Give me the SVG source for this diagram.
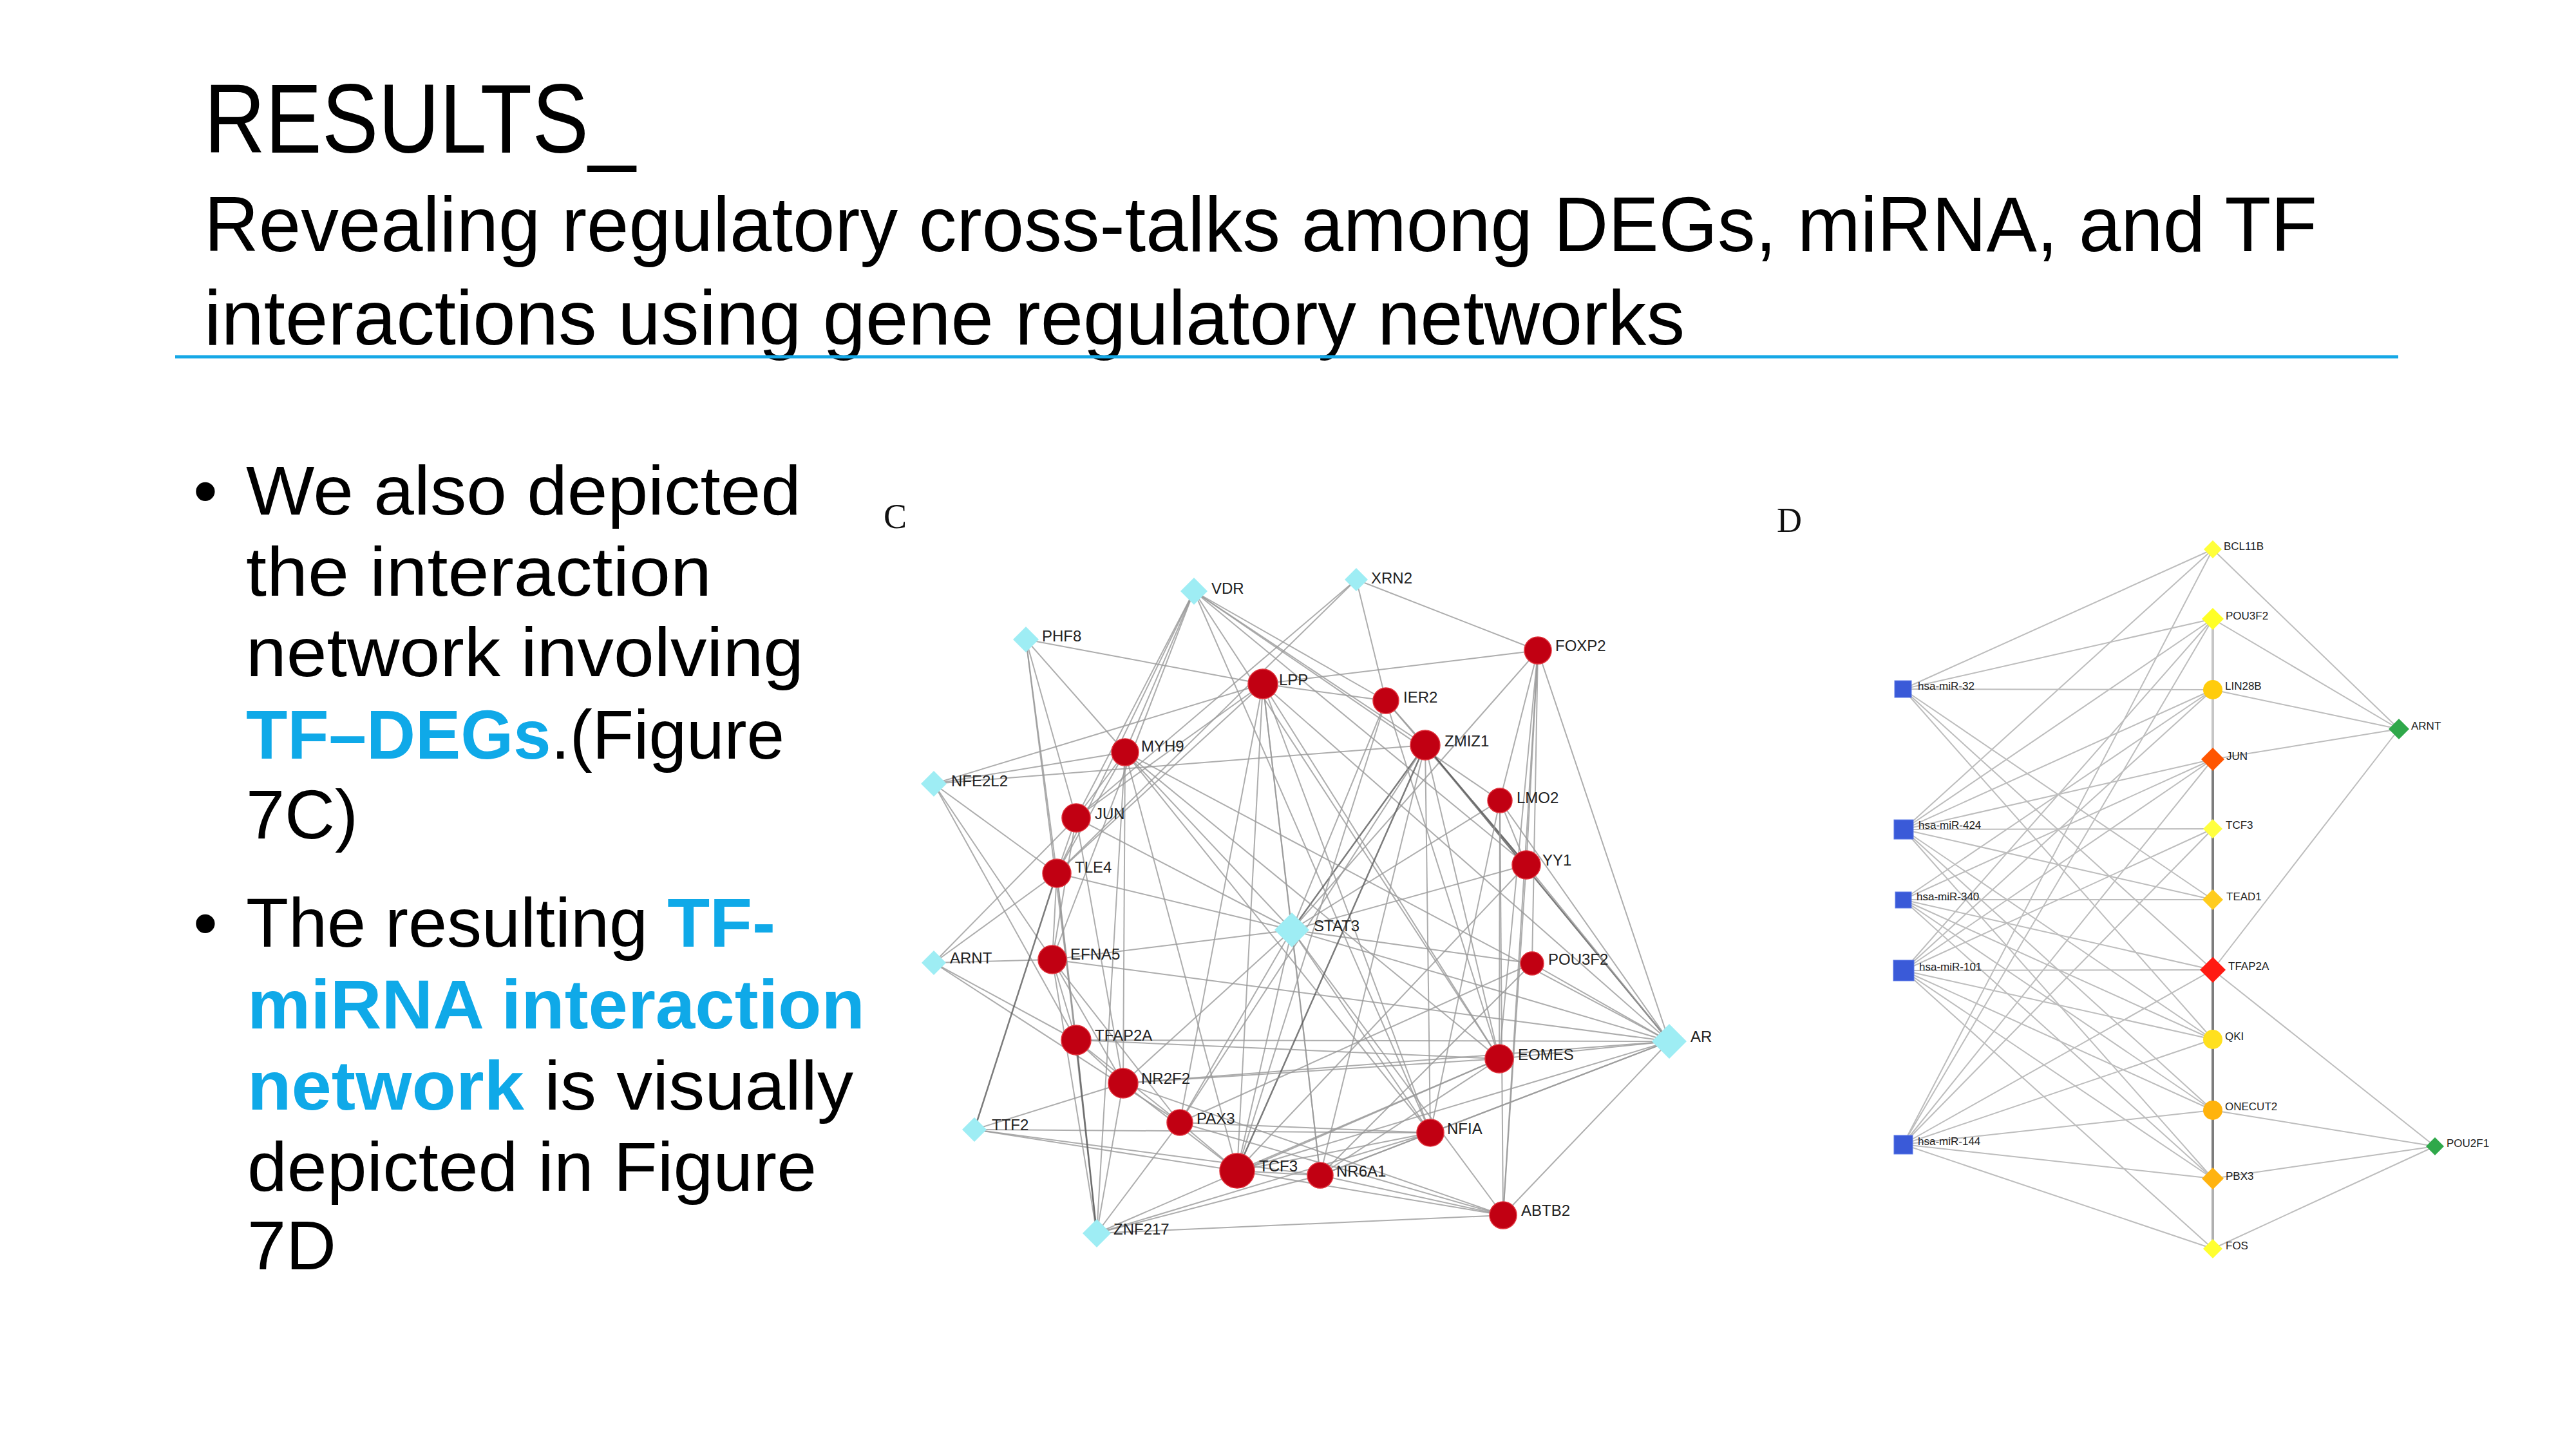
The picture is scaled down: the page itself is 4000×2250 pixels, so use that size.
<svg xmlns="http://www.w3.org/2000/svg" width="4000" height="2250" viewBox="0 0 4000 2250">
<style>
.ttl{font-family:"Liberation Sans",Arial,sans-serif;fill:#000}
.body{font-family:"Liberation Sans",Arial,sans-serif;font-size:108px;fill:#000}
.hl{font-weight:bold;fill:#0FA9E8}
.pl{font-family:"Liberation Serif","Times New Roman",serif;font-size:54px;fill:#111}
.ec line{stroke:#989898;stroke-width:2;stroke-opacity:0.8}
.ec line.dk{stroke:#5a5a5a;stroke-width:2.5}
.ed line{stroke:#bdbdbd;stroke-width:2}
.cl{font-family:"Liberation Sans",Arial,sans-serif;font-size:24px;fill:#222}
.dl{font-family:"Liberation Sans",Arial,sans-serif;font-size:17px;fill:#222}
.deg{fill:#C10012;stroke:#e0303a;stroke-width:1.5}
.tf{fill:#9EEDF4}
.mir{fill:#3A5AD8;stroke:#5a78e8;stroke-width:1}
</style>
<rect x="0" y="0" width="4000" height="2250" fill="#fff"/>

<!-- Title -->
<g id="title">
<text class="ttl" x="317" y="237" font-size="152" textLength="670" lengthAdjust="spacingAndGlyphs">RESULTS_</text>
<text class="ttl" x="317" y="390" font-size="121" textLength="3281" lengthAdjust="spacingAndGlyphs">Revealing regulatory cross-talks among DEGs, miRNA, and TF</text>
<text class="ttl" x="317" y="535" font-size="121" textLength="2299" lengthAdjust="spacingAndGlyphs">interactions using gene regulatory networks</text>
<line x1="272" y1="554" x2="3724" y2="554" stroke="#16A8E6" stroke-width="5"/>
</g>

<!-- Bullets -->
<g id="bullets">
<text class="body" x="300" y="799">•</text>
<text class="body" x="382" y="799" textLength="862" lengthAdjust="spacingAndGlyphs">We also depicted</text>
<text class="body" x="382" y="925" textLength="723" lengthAdjust="spacingAndGlyphs">the interaction</text>
<text class="body" x="382" y="1050" textLength="866" lengthAdjust="spacingAndGlyphs">network involving</text>
<text class="body" x="382" y="1178" textLength="836" lengthAdjust="spacingAndGlyphs"><tspan class="hl">TF–DEGs</tspan>.(Figure</text>
<text class="body" x="382" y="1302">7C)</text>
<text class="body" x="300" y="1470">•</text>
<text class="body" x="382" y="1470" textLength="822" lengthAdjust="spacingAndGlyphs">The resulting <tspan class="hl">TF-</tspan></text>
<text class="body hl" x="384" y="1597" textLength="959" lengthAdjust="spacingAndGlyphs">miRNA interaction</text>
<text class="body" x="384" y="1723" textLength="941" lengthAdjust="spacingAndGlyphs"><tspan class="hl">network</tspan> is visually</text>
<text class="body" x="384" y="1849" textLength="884" lengthAdjust="spacingAndGlyphs">depicted in Figure</text>
<text class="body" x="384" y="1971">7D</text>
</g>

<text class="pl" x="1372" y="820">C</text>
<text class="pl" x="2759" y="826">D</text>

<!-- Network C connectors -->
<g id="connectors-c" class="ec">
<line x1="1854" y1="918" x2="1671" y2="1270"/>
<line x1="1854" y1="918" x2="1641" y2="1356"/>
<line x1="1854" y1="918" x2="1634" y2="1490"/>
<line x1="1854" y1="918" x2="1747" y2="1168"/>
<line x1="1854" y1="918" x2="2152" y2="1088"/>
<line x1="1854" y1="918" x2="2213" y2="1157"/>
<line x1="1854" y1="918" x2="2329" y2="1243"/>
<line x1="1854" y1="918" x2="2370" y2="1343"/>
<line x1="1854" y1="918" x2="2328" y2="1644"/>
<line x1="1854" y1="918" x2="2221" y2="1759"/>
<line x1="2106" y1="900" x2="1671" y2="1270"/>
<line x1="2106" y1="900" x2="1641" y2="1356"/>
<line x1="2106" y1="900" x2="2152" y2="1088"/>
<line x1="2106" y1="900" x2="2388" y2="1010"/>
<line x1="1593" y1="993" x2="1961" y2="1062"/>
<line x1="1593" y1="993" x2="1747" y2="1168"/>
<line x1="1593" y1="993" x2="1671" y2="1270"/>
<line x1="1593" y1="993" x2="1641" y2="1356"/>
<line x1="1593" y1="993" x2="1671" y2="1615"/>
<line x1="1450" y1="1217" x2="1961" y2="1062"/>
<line x1="1450" y1="1217" x2="1747" y2="1168"/>
<line x1="1450" y1="1217" x2="2213" y2="1157"/>
<line x1="1450" y1="1217" x2="1641" y2="1356"/>
<line x1="1450" y1="1217" x2="1671" y2="1615"/>
<line x1="1450" y1="1217" x2="1634" y2="1490"/>
<line x1="1450" y1="1495" x2="1634" y2="1490"/>
<line x1="1450" y1="1495" x2="1671" y2="1270"/>
<line x1="1450" y1="1495" x2="1641" y2="1356"/>
<line x1="1450" y1="1495" x2="1671" y2="1615"/>
<line x1="1450" y1="1495" x2="1832" y2="1743"/>
<line class="dk" x1="1513" y1="1754" x2="1641" y2="1356"/>
<line x1="1513" y1="1754" x2="1744" y2="1682"/>
<line x1="1513" y1="1754" x2="2221" y2="1759"/>
<line x1="1513" y1="1754" x2="1921" y2="1818"/>
<line x1="1513" y1="1754" x2="2050" y2="1825"/>
<line x1="1703" y1="1915" x2="1641" y2="1356"/>
<line x1="1703" y1="1915" x2="1634" y2="1490"/>
<line class="dk" x1="1703" y1="1915" x2="1671" y2="1615"/>
<line x1="1703" y1="1915" x2="1744" y2="1682"/>
<line x1="1703" y1="1915" x2="1832" y2="1743"/>
<line x1="1703" y1="1915" x2="2050" y2="1825"/>
<line x1="1703" y1="1915" x2="2221" y2="1759"/>
<line x1="1703" y1="1915" x2="2328" y2="1644"/>
<line x1="1703" y1="1915" x2="2334" y2="1887"/>
<line x1="1703" y1="1915" x2="1747" y2="1168"/>
<line x1="2006" y1="1444" x2="1961" y2="1062"/>
<line x1="2006" y1="1444" x2="2152" y2="1088"/>
<line class="dk" x1="2006" y1="1444" x2="2213" y2="1157"/>
<line x1="2006" y1="1444" x2="2329" y2="1243"/>
<line x1="2006" y1="1444" x2="2370" y2="1343"/>
<line x1="2006" y1="1444" x2="2379" y2="1496"/>
<line x1="2006" y1="1444" x2="1671" y2="1270"/>
<line x1="2006" y1="1444" x2="1641" y2="1356"/>
<line x1="2006" y1="1444" x2="1634" y2="1490"/>
<line x1="2006" y1="1444" x2="1832" y2="1743"/>
<line x1="2006" y1="1444" x2="1921" y2="1818"/>
<line x1="2006" y1="1444" x2="2050" y2="1825"/>
<line x1="2006" y1="1444" x2="2221" y2="1759"/>
<line x1="2006" y1="1444" x2="2334" y2="1887"/>
<line x1="2006" y1="1444" x2="1747" y2="1168"/>
<line x1="2006" y1="1444" x2="2592" y2="1617"/>
<line x1="2006" y1="1444" x2="1744" y2="1682"/>
<line x1="2592" y1="1617" x2="2388" y2="1010"/>
<line class="dk" x1="2592" y1="1617" x2="2213" y2="1157"/>
<line x1="2592" y1="1617" x2="2370" y2="1343"/>
<line x1="2592" y1="1617" x2="2379" y2="1496"/>
<line x1="2592" y1="1617" x2="1634" y2="1490"/>
<line x1="2592" y1="1617" x2="1671" y2="1615"/>
<line x1="2592" y1="1617" x2="2328" y2="1644"/>
<line x1="2592" y1="1617" x2="1744" y2="1682"/>
<line x1="2592" y1="1617" x2="2221" y2="1759"/>
<line x1="2592" y1="1617" x2="1921" y2="1818"/>
<line x1="2592" y1="1617" x2="2050" y2="1825"/>
<line x1="2592" y1="1617" x2="2334" y2="1887"/>
<line x1="2592" y1="1617" x2="1747" y2="1168"/>
<line x1="2592" y1="1617" x2="2329" y2="1243"/>
<line x1="2592" y1="1617" x2="1961" y2="1062"/>
<line x1="2388" y1="1010" x2="1961" y2="1062"/>
<line x1="2388" y1="1010" x2="2006" y2="1444"/>
<line x1="2388" y1="1010" x2="2329" y2="1243"/>
<line x1="2388" y1="1010" x2="2370" y2="1343"/>
<line x1="2388" y1="1010" x2="2379" y2="1496"/>
<line x1="2388" y1="1010" x2="2328" y2="1644"/>
<line x1="2388" y1="1010" x2="2334" y2="1887"/>
<line x1="1961" y1="1062" x2="2152" y2="1088"/>
<line x1="1961" y1="1062" x2="1921" y2="1818"/>
<line x1="1961" y1="1062" x2="2050" y2="1825"/>
<line x1="1961" y1="1062" x2="2221" y2="1759"/>
<line x1="1961" y1="1062" x2="2328" y2="1644"/>
<line x1="1961" y1="1062" x2="1671" y2="1270"/>
<line x1="1961" y1="1062" x2="1641" y2="1356"/>
<line x1="1961" y1="1062" x2="1832" y2="1743"/>
<line x1="2152" y1="1088" x2="2213" y2="1157"/>
<line x1="2152" y1="1088" x2="2370" y2="1343"/>
<line x1="2152" y1="1088" x2="1921" y2="1818"/>
<line x1="2152" y1="1088" x2="2328" y2="1644"/>
<line class="dk" x1="2213" y1="1157" x2="1921" y2="1818"/>
<line x1="2213" y1="1157" x2="1832" y2="1743"/>
<line x1="2213" y1="1157" x2="2050" y2="1825"/>
<line class="dk" x1="2213" y1="1157" x2="2370" y2="1343"/>
<line x1="2213" y1="1157" x2="2328" y2="1644"/>
<line x1="2213" y1="1157" x2="2221" y2="1759"/>
<line x1="1747" y1="1168" x2="1671" y2="1270"/>
<line x1="1747" y1="1168" x2="1641" y2="1356"/>
<line x1="1747" y1="1168" x2="2328" y2="1644"/>
<line x1="1747" y1="1168" x2="2221" y2="1759"/>
<line x1="1747" y1="1168" x2="1921" y2="1818"/>
<line x1="1747" y1="1168" x2="1744" y2="1682"/>
<line x1="2329" y1="1243" x2="2221" y2="1759"/>
<line x1="2329" y1="1243" x2="2328" y2="1644"/>
<line x1="2329" y1="1243" x2="2334" y2="1887"/>
<line x1="2329" y1="1243" x2="2370" y2="1343"/>
<line x1="2370" y1="1343" x2="1921" y2="1818"/>
<line x1="2370" y1="1343" x2="2334" y2="1887"/>
<line x1="2379" y1="1496" x2="1832" y2="1743"/>
<line x1="2379" y1="1496" x2="2050" y2="1825"/>
<line x1="2328" y1="1644" x2="1744" y2="1682"/>
<line x1="2328" y1="1644" x2="1671" y2="1615"/>
<line x1="2328" y1="1644" x2="1921" y2="1818"/>
<line x1="2328" y1="1644" x2="2050" y2="1825"/>
<line x1="2221" y1="1759" x2="1832" y2="1743"/>
<line x1="2221" y1="1759" x2="1921" y2="1818"/>
<line x1="2221" y1="1759" x2="2050" y2="1825"/>
<line x1="2334" y1="1887" x2="1921" y2="1818"/>
<line x1="2334" y1="1887" x2="2050" y2="1825"/>
<line x1="2334" y1="1887" x2="1832" y2="1743"/>
<line x1="2334" y1="1887" x2="1744" y2="1682"/>
<line x1="1921" y1="1818" x2="1832" y2="1743"/>
<line x1="1921" y1="1818" x2="2050" y2="1825"/>
<line x1="1921" y1="1818" x2="1744" y2="1682"/>
<line x1="1671" y1="1615" x2="1744" y2="1682"/>
<line x1="1671" y1="1615" x2="1832" y2="1743"/>
<line x1="1671" y1="1615" x2="1634" y2="1490"/>
<line x1="1671" y1="1615" x2="1641" y2="1356"/>
<line x1="1671" y1="1270" x2="1641" y2="1356"/>
<line x1="1641" y1="1356" x2="1634" y2="1490"/>
<line x1="1634" y1="1490" x2="1744" y2="1682"/>
<line x1="1634" y1="1490" x2="1832" y2="1743"/>
<line x1="1671" y1="1270" x2="1634" y2="1490"/>
<line x1="1671" y1="1270" x2="1744" y2="1682"/>
</g>

<!-- Network C nodes -->
<g id="node-VDR"><polygon class="tf" points="1854,897 1875,918 1854,939 1833,918"/><text class="cl" x="1881" y="922">VDR</text></g>
<g id="node-XRN2"><polygon class="tf" points="2106,882 2124,900 2106,918 2088,900"/><text class="cl" x="2129" y="906">XRN2</text></g>
<g id="node-PHF8"><polygon class="tf" points="1593,973 1613,993 1593,1013 1573,993"/><text class="cl" x="1618" y="996">PHF8</text></g>
<g id="node-NFE2L2"><polygon class="tf" points="1450,1197 1470,1217 1450,1237 1430,1217"/><text class="cl" x="1477" y="1221">NFE2L2</text></g>
<g id="node-ARNT-c"><polygon class="tf" points="1450,1476 1469,1495 1450,1514 1431,1495"/><text class="cl" x="1475" y="1496">ARNT</text></g>
<g id="node-TTF2"><polygon class="tf" points="1513,1735 1532,1754 1513,1773 1494,1754"/><text class="cl" x="1540" y="1755">TTF2</text></g>
<g id="node-ZNF217"><polygon class="tf" points="1703,1893 1725,1915 1703,1937 1681,1915"/><text class="cl" x="1729" y="1917">ZNF217</text></g>
<g id="node-STAT3"><polygon class="tf" points="2006,1417 2033,1444 2006,1471 1979,1444"/><text class="cl" x="2040" y="1446">STAT3</text></g>
<g id="node-AR"><polygon class="tf" points="2592,1590 2619,1617 2592,1644 2565,1617"/><text class="cl" x="2625" y="1618">AR</text></g>
<g id="node-LPP"><circle class="deg" cx="1961" cy="1062" r="23"/><text class="cl" x="1986" y="1064">LPP</text></g>
<g id="node-MYH9"><circle class="deg" cx="1747" cy="1168" r="21"/><text class="cl" x="1772" y="1167">MYH9</text></g>
<g id="node-FOXP2"><circle class="deg" cx="2388" cy="1010" r="21"/><text class="cl" x="2415" y="1011">FOXP2</text></g>
<g id="node-IER2"><circle class="deg" cx="2152" cy="1088" r="20"/><text class="cl" x="2179" y="1091">IER2</text></g>
<g id="node-ZMIZ1"><circle class="deg" cx="2213" cy="1157" r="23"/><text class="cl" x="2243" y="1159">ZMIZ1</text></g>
<g id="node-LMO2"><circle class="deg" cx="2329" cy="1243" r="19"/><text class="cl" x="2355" y="1247">LMO2</text></g>
<g id="node-JUN-c"><circle class="deg" cx="1671" cy="1270" r="22"/><text class="cl" x="1700" y="1272">JUN</text></g>
<g id="node-TLE4"><circle class="deg" cx="1641" cy="1356" r="22"/><text class="cl" x="1669" y="1355">TLE4</text></g>
<g id="node-YY1"><circle class="deg" cx="2370" cy="1343" r="22"/><text class="cl" x="2395" y="1344">YY1</text></g>
<g id="node-EFNA5"><circle class="deg" cx="1634" cy="1490" r="22"/><text class="cl" x="1662" y="1490">EFNA5</text></g>
<g id="node-POU3F2-c"><circle class="deg" cx="2379" cy="1496" r="18"/><text class="cl" x="2404" y="1498">POU3F2</text></g>
<g id="node-TFAP2A-c"><circle class="deg" cx="1671" cy="1615" r="23"/><text class="cl" x="1700" y="1616">TFAP2A</text></g>
<g id="node-EOMES"><circle class="deg" cx="2328" cy="1644" r="22"/><text class="cl" x="2357" y="1646">EOMES</text></g>
<g id="node-NR2F2"><circle class="deg" cx="1744" cy="1682" r="23"/><text class="cl" x="1772" y="1683">NR2F2</text></g>
<g id="node-PAX3"><circle class="deg" cx="1832" cy="1743" r="20"/><text class="cl" x="1858" y="1745">PAX3</text></g>
<g id="node-NFIA"><circle class="deg" cx="2221" cy="1759" r="21"/><text class="cl" x="2247" y="1761">NFIA</text></g>
<g id="node-TCF3-c"><circle class="deg" cx="1921" cy="1818" r="27"/><text class="cl" x="1955" y="1819">TCF3</text></g>
<g id="node-NR6A1"><circle class="deg" cx="2050" cy="1825" r="20"/><text class="cl" x="2075" y="1827">NR6A1</text></g>
<g id="node-ABTB2"><circle class="deg" cx="2334" cy="1887" r="21"/><text class="cl" x="2362" y="1888">ABTB2</text></g>

<!-- Network D connectors -->
<g id="connectors-d" class="ed">
<line x1="3436" y1="961" x2="3436" y2="1179" style="stroke:#c6c6c6;stroke-width:4"/>
<line x1="3436" y1="1179" x2="3436" y2="1830" style="stroke:#7d7d7d;stroke-width:4"/>
<line x1="3436" y1="1830" x2="3436" y2="1939" style="stroke:#b0b0b0;stroke-width:4"/>
<line x1="2955" y1="1070" x2="3436" y2="853"/>
<line x1="2955" y1="1070" x2="3436" y2="961"/>
<line x1="2955" y1="1070" x2="3436" y2="1071"/>
<line x1="2955" y1="1070" x2="3436" y2="1397"/>
<line x1="2955" y1="1070" x2="3436" y2="1506"/>
<line x1="2955" y1="1070" x2="3436" y2="1614"/>
<line x1="2956" y1="1288" x2="3436" y2="853"/>
<line x1="2956" y1="1288" x2="3436" y2="961"/>
<line x1="2956" y1="1288" x2="3436" y2="1071"/>
<line x1="2956" y1="1288" x2="3436" y2="1179"/>
<line x1="2956" y1="1288" x2="3436" y2="1287"/>
<line x1="2956" y1="1288" x2="3436" y2="1397"/>
<line x1="2956" y1="1288" x2="3436" y2="1614"/>
<line x1="2956" y1="1288" x2="3436" y2="1724"/>
<line x1="2956" y1="1288" x2="3436" y2="1830"/>
<line x1="2955" y1="1397" x2="3436" y2="1071"/>
<line x1="2955" y1="1397" x2="3436" y2="1179"/>
<line x1="2955" y1="1397" x2="3436" y2="1397"/>
<line x1="2955" y1="1397" x2="3436" y2="1506"/>
<line x1="2955" y1="1397" x2="3436" y2="1614"/>
<line x1="2955" y1="1397" x2="3436" y2="1724"/>
<line x1="2955" y1="1397" x2="3436" y2="1830"/>
<line x1="2956" y1="1507" x2="3436" y2="961"/>
<line x1="2956" y1="1507" x2="3436" y2="1071"/>
<line x1="2956" y1="1507" x2="3436" y2="1179"/>
<line x1="2956" y1="1507" x2="3436" y2="1287"/>
<line x1="2956" y1="1507" x2="3436" y2="1506"/>
<line x1="2956" y1="1507" x2="3436" y2="1614"/>
<line x1="2956" y1="1507" x2="3436" y2="1724"/>
<line x1="2956" y1="1507" x2="3436" y2="1830"/>
<line x1="2956" y1="1507" x2="3436" y2="1939"/>
<line x1="2955" y1="1777" x2="3436" y2="853"/>
<line x1="2955" y1="1777" x2="3436" y2="961"/>
<line x1="2955" y1="1777" x2="3436" y2="1179"/>
<line x1="2955" y1="1777" x2="3436" y2="1287"/>
<line x1="2955" y1="1777" x2="3436" y2="1506"/>
<line x1="2955" y1="1777" x2="3436" y2="1614"/>
<line x1="2955" y1="1777" x2="3436" y2="1724"/>
<line x1="2955" y1="1777" x2="3436" y2="1830"/>
<line x1="2955" y1="1777" x2="3436" y2="1939"/>
<line x1="3725" y1="1132" x2="3436" y2="853"/>
<line x1="3725" y1="1132" x2="3436" y2="961"/>
<line x1="3725" y1="1132" x2="3436" y2="1071"/>
<line x1="3725" y1="1132" x2="3436" y2="1179"/>
<line x1="3725" y1="1132" x2="3436" y2="1506"/>
<line x1="3781" y1="1780" x2="3436" y2="1506"/>
<line x1="3781" y1="1780" x2="3436" y2="1724"/>
<line x1="3781" y1="1780" x2="3436" y2="1830"/>
<line x1="3781" y1="1780" x2="3436" y2="1939"/>
</g>

<!-- Network D nodes -->
<g id="node-miR-32"><rect class="mir" x="2942" y="1057" width="26" height="26"/><text class="dl" x="2978" y="1071">hsa-miR-32</text></g>
<g id="node-miR-424"><rect class="mir" x="2941" y="1273" width="30" height="30"/><text class="dl" x="2979" y="1287">hsa-miR-424</text></g>
<g id="node-miR-340"><rect class="mir" x="2943" y="1385" width="25" height="25"/><text class="dl" x="2976" y="1398">hsa-miR-340</text></g>
<g id="node-miR-101"><rect class="mir" x="2940" y="1491" width="32" height="32"/><text class="dl" x="2980" y="1507">hsa-miR-101</text></g>
<g id="node-miR-144"><rect class="mir" x="2941" y="1763" width="29" height="29"/><text class="dl" x="2978" y="1778">hsa-miR-144</text></g>
<g id="node-BCL11B"><polygon points="3436,839 3450,853 3436,867 3422,853" fill="#FFFF3A"/><text class="dl" x="3453" y="854">BCL11B</text></g>
<g id="node-POU3F2-d"><polygon points="3436,944 3453,961 3436,978 3419,961" fill="#FFFF26"/><text class="dl" x="3456" y="962">POU3F2</text></g>
<g id="node-LIN28B"><circle cx="3436" cy="1071" r="15" fill="#FFCC0C"/><text class="dl" x="3455" y="1071">LIN28B</text></g>
<g id="node-JUN-d"><polygon points="3436,1161 3454,1179 3436,1197 3418,1179" fill="#FF5500"/><text class="dl" x="3457" y="1180">JUN</text></g>
<g id="node-TCF3-d"><polygon points="3436,1272 3451,1287 3436,1302 3421,1287" fill="#FFFF40"/><text class="dl" x="3456" y="1287">TCF3</text></g>
<g id="node-TEAD1"><polygon points="3436,1381 3452,1397 3436,1413 3420,1397" fill="#FFCC1E"/><text class="dl" x="3457" y="1398">TEAD1</text></g>
<g id="node-TFAP2A-d"><polygon points="3436,1486 3456,1506 3436,1526 3416,1506" fill="#FF1A12"/><text class="dl" x="3460" y="1506">TFAP2A</text></g>
<g id="node-QKI"><circle cx="3436" cy="1614" r="15" fill="#FFE01E"/><text class="dl" x="3455" y="1615">QKI</text></g>
<g id="node-ONECUT2"><circle cx="3436" cy="1724" r="15" fill="#FFB30C"/><text class="dl" x="3455" y="1724">ONECUT2</text></g>
<g id="node-PBX3"><polygon points="3436,1813 3453,1830 3436,1847 3419,1830" fill="#FFB310"/><text class="dl" x="3456" y="1832">PBX3</text></g>
<g id="node-FOS"><polygon points="3436,1924 3451,1939 3436,1954 3421,1939" fill="#FFFF30"/><text class="dl" x="3456" y="1940">FOS</text></g>
<g id="node-ARNT-d"><polygon points="3725,1116 3741,1132 3725,1148 3709,1132" fill="#2FA84A"/><text class="dl" x="3744" y="1133">ARNT</text></g>
<g id="node-POU2F1"><polygon points="3781,1766 3795,1780 3781,1794 3767,1780" fill="#2FA84A"/><text class="dl" x="3799" y="1781">POU2F1</text></g>
</svg>
